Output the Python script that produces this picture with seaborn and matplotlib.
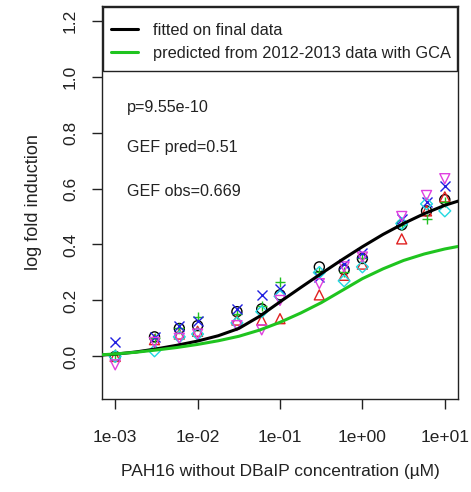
import numpy as np
import pandas as pd
import matplotlib
matplotlib.use("Agg")
import matplotlib.pyplot as plt
import seaborn as sns
from matplotlib.lines import Line2D
from matplotlib.patches import Rectangle

# ---- data ----
conc = [0.001, 0.003, 0.006, 0.01, 0.03, 0.06, 0.1, 0.3, 0.6, 1.0, 3.0, 6.0, 10.0]
rep1_black = [0.00, 0.07, 0.10, 0.11, 0.16, 0.17, 0.22, 0.32, 0.31, 0.35, 0.47, 0.52, 0.56]
rep2_red = [0.00, 0.06, 0.08, 0.09, 0.13, 0.13, 0.135, 0.22, 0.29, 0.33, 0.42, 0.52, 0.57]
rep3_green = [0.01, 0.065, 0.10, 0.14, 0.15, 0.18, 0.265, 0.30, 0.30, 0.35, 0.47, 0.49, 0.55]
rep4_blue = [0.05, 0.07, 0.11, 0.125, 0.17, 0.22, 0.24, 0.285, 0.33, 0.37, 0.49, 0.55, 0.61]
rep5_cyan = [0.00, 0.02, 0.07, 0.08, 0.12, 0.16, 0.215, 0.30, 0.27, 0.32, 0.475, 0.545, 0.52]
rep6_magenta = [-0.03, 0.05, 0.065, 0.08, 0.11, 0.095, 0.20, 0.26, 0.32, 0.355, 0.50, 0.575, 0.635]

curve_x = [0.00069, 0.001, 0.00178, 0.00316, 0.00562, 0.01, 0.0178, 0.0316, 0.0562,
           0.1, 0.178, 0.316, 0.562, 1.0, 1.78, 3.16, 5.62, 10.0, 14.5]
fitted_y = [0.005, 0.008, 0.016, 0.027, 0.040, 0.055, 0.074, 0.100, 0.143,
            0.195, 0.246, 0.296, 0.345, 0.392, 0.436, 0.475, 0.510, 0.540, 0.555]
predicted_y = [0.006, 0.009, 0.015, 0.023, 0.032, 0.043, 0.056, 0.072, 0.094,
               0.122, 0.155, 0.192, 0.235, 0.278, 0.313, 0.343, 0.366, 0.384, 0.393]

legend_labels = ["fitted on final data", "predicted from 2012-2013 data with GCA"]
annotations = ["p=9.55e-10", "GEF pred=0.51", "GEF obs=0.669"]
xtick_vals = [1e-3, 1e-2, 1e-1, 1e0, 1e1]
xtick_labels = ["1e-03", "1e-02", "1e-01", "1e+00", "1e+01"]
ytick_vals = [0.0, 0.2, 0.4, 0.6, 0.8, 1.0, 1.2]

# ---- styling ----
sns.set_theme(style="white")
plt.rcParams['font.family'] = ['Liberation Sans', 'DejaVu Sans']
TXT = "#222222"
GREEN = "#1fc41f"

fig = plt.figure(figsize=(4.71, 4.92), dpi=100)
ax = fig.add_axes([102/471, 1 - 399/492, 356/471, 393/492])

series = [
    (rep1_black, "black", "o"),
    (rep2_red, "#e02020", "^"),
    (rep3_green, "#20c020", "+"),
    (rep4_blue, "#2020e0", "x"),
    (rep5_cyan, "#20d8e0", "D"),
    (rep6_magenta, "#e040e0", "v"),
]
for vals, col, mk in series:
    df = pd.DataFrame({"conc": conc, "y": vals})
    size = 36 if mk == "D" else 52
    sns.scatterplot(data=df, x="conc", y="y", marker=mk, s=size, color=col,
                    linewidth=1.0, ax=ax, legend=False, zorder=3)
    coll = ax.collections[-1]
    if mk in ("o", "^", "D", "v"):
        coll.set_facecolor("none")
        coll.set_edgecolor(col)

cdf = pd.DataFrame({"x": curve_x, "fit": fitted_y, "pred": predicted_y})
sns.lineplot(data=cdf, x="x", y="fit", color="black", lw=2.2, ax=ax, zorder=4)
sns.lineplot(data=cdf, x="x", y="pred", color=GREEN, lw=2.2, ax=ax, zorder=4)

ax.set_xscale("log")
ax.set_xlim(10**-3.16, 10**1.16)
ax.set_ylim(-0.152, 1.252)
ax.set_xticks(xtick_vals)
ax.set_xticklabels(xtick_labels)
ax.minorticks_off()
ax.set_yticks(ytick_vals)
ax.set_yticklabels([f"{v:.1f}" for v in ytick_vals], rotation=90, va="center")
ax.tick_params(axis="both", which="major", direction="out", length=7.2, width=1.0,
               color=TXT, labelcolor=TXT, labelsize=12.5, left=True, bottom=True)
ax.tick_params(axis="x", pad=15)
ax.tick_params(axis="y", pad=10)
for sp in ax.spines.values():
    sp.set_color(TXT)
    sp.set_linewidth(1.0)

ax.set_xlabel("PAH16 without DBaIP concentration (\u00b5M)", fontsize=12.5, color=TXT, labelpad=14)
ax.set_ylabel("log fold induction", fontsize=13, color=TXT, labelpad=15)

for txt, yy in zip(annotations, [0.743, 0.639, 0.527]):
    ax.text(0.070, yy, txt, transform=ax.transAxes, fontsize=11.6, color=TXT,
            ha="left", va="center")

# legend box (full-width frame) and entries
ax.add_patch(Rectangle((0.003, 0.835), 0.994, 0.162, transform=ax.transAxes,
                       facecolor="white", edgecolor=TXT, lw=1.0, zorder=5))
handles = [Line2D([0], [0], color="black", lw=2.2), Line2D([0], [0], color=GREEN, lw=2.2)]
leg = ax.legend(handles, legend_labels, loc="upper left",
                bbox_to_anchor=(0.0239, 0.958), fontsize=11.8,
                frameon=False, handlelength=1.7, handletextpad=0.88, borderpad=0.0,
                labelspacing=0.5, borderaxespad=0.0)
leg.set_zorder(6)
for t in leg.get_texts():
    t.set_color(TXT)

fig.savefig("out.png", dpi=100)
